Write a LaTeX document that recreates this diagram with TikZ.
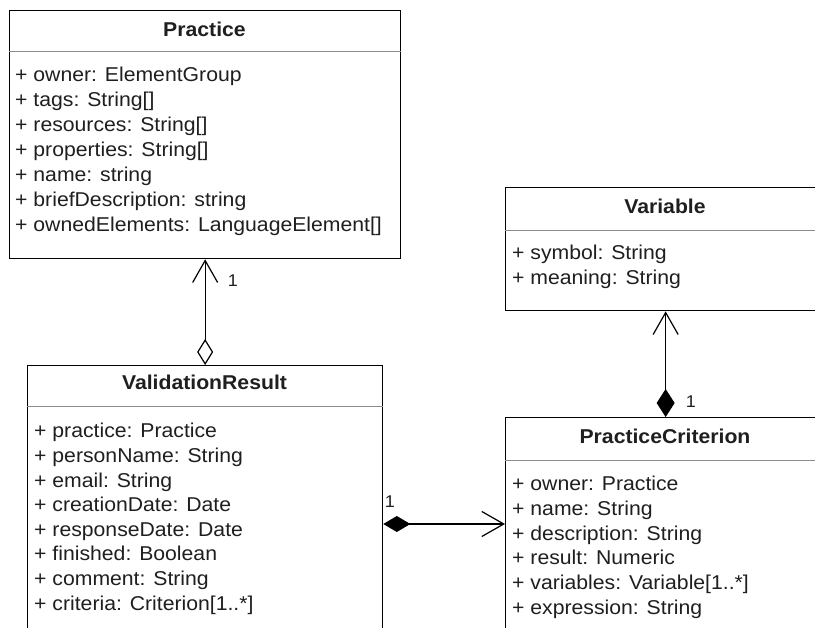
\documentclass[tikz,border=0pt]{standalone}
\usepackage{fontspec}
\setmainfont[FakeStretch=1.06]{Liberation Sans}
\usetikzlibrary{arrows.meta}

\begin{document}
\begin{tikzpicture}[x=1pt,y=-1pt,
  classbox/.style={draw=black, line width=1.3pt, fill=white, inner sep=0pt, anchor=north west},
  sep/.style={draw=black!45, line width=1pt},
  title/.style={font=\fontsize{20}{24}\selectfont\bfseries, anchor=base, inner sep=0pt, text=black!88},
  attr/.style={font=\fontsize{20}{24}\selectfont, anchor=base west, inner sep=0pt, text=black!88},
  mult/.style={font=\fontsize{17}{20}\selectfont, inner sep=0pt, text=black!88},
  assoc/.style={line width=1.2pt, draw=black},
]
\useasboundingbox (0,0) rectangle (815,628);
\clip (0,0) rectangle (815,628);

% class boxes
\node[classbox, minimum width=391pt, minimum height=248pt] (practice) at (9,10) {};
\node[classbox, minimum width=355pt, minimum height=300pt] (vr) at (27,365) {};
\node[classbox, minimum width=320pt, minimum height=123pt] (var) at (505,187) {};
\node[classbox, minimum width=320pt, minimum height=250pt] (pc) at (505,417) {};

% header separators
\draw[sep] ([yshift=-42pt]practice.north west) -- ([yshift=-42pt]practice.north east);
\draw[sep] ([yshift=-42pt]vr.north west) -- ([yshift=-42pt]vr.north east);
\draw[sep] ([yshift=-44pt]var.north west) -- ([yshift=-44pt]var.north east);
\draw[sep] ([yshift=-44pt]pc.north west) -- ([yshift=-44pt]pc.north east);

% class names
\node[title] (practice-t) at (204.5,37) {Practice};
\node[title] (vr-t) at (204.5,390) {ValidationResult};
\node[title] (var-t) at (665,214) {Variable};
\node[title] (pc-t) at (665,444) {PracticeCriterion};

% attributes
\foreach \t [count=\i] in {+ owner: ElementGroup, + tags: String[], + resources: String[],
  + properties: String[], + name: string, + briefDescription: string,
  + ownedElements: LanguageElement[]}
  \node[attr] (practice-\i) at (15,82+25*\i-25) {\t};

\foreach \t [count=\i] in {+ practice: Practice, + personName: String, + email: String,
  + creationDate: Date, + responseDate: Date, + finished: Boolean, + comment: String,
  + criteria: Criterion[1..*]}
  \node[attr] (vr-\i) at (34,438+24.6*\i-24.6) {\t};

\foreach \t [count=\i] in {+ symbol: String, + meaning: String}
  \node[attr] (var-\i) at (512,260+24.6*\i-24.6) {\t};

\foreach \t [count=\i] in {+ owner: Practice, + name: String, + description: String,
  + result: Numeric, + variables: Variable[1..*], + expression: String}
  \node[attr] (pc-\i) at (512,491+24.6*\i-24.6) {\t};

% associations
\coordinate (hline) at (0,524);
\draw[assoc, {Diamond[open,length=26pt,width=16pt]}-{Straight Barb[length=22pt,width=25pt]}]
  (vr.north) -- (practice.south);
\draw[assoc, {Diamond[length=27pt,width=16pt]}-{Straight Barb[length=22pt,width=25pt]}]
  (vr.east |- hline) -- (pc.west |- hline);
\draw[assoc, {Diamond[length=28pt,width=18pt]}-{Straight Barb[length=22pt,width=25pt]}]
  (pc.north) -- (var.south);

% multiplicities
\node[mult] (m-practice) at (233,281) {1};
\node[mult] (m-vr) at (390,502) {1};
\node[mult] (m-pc) at (691,402) {1};
\end{tikzpicture}
\end{document}
